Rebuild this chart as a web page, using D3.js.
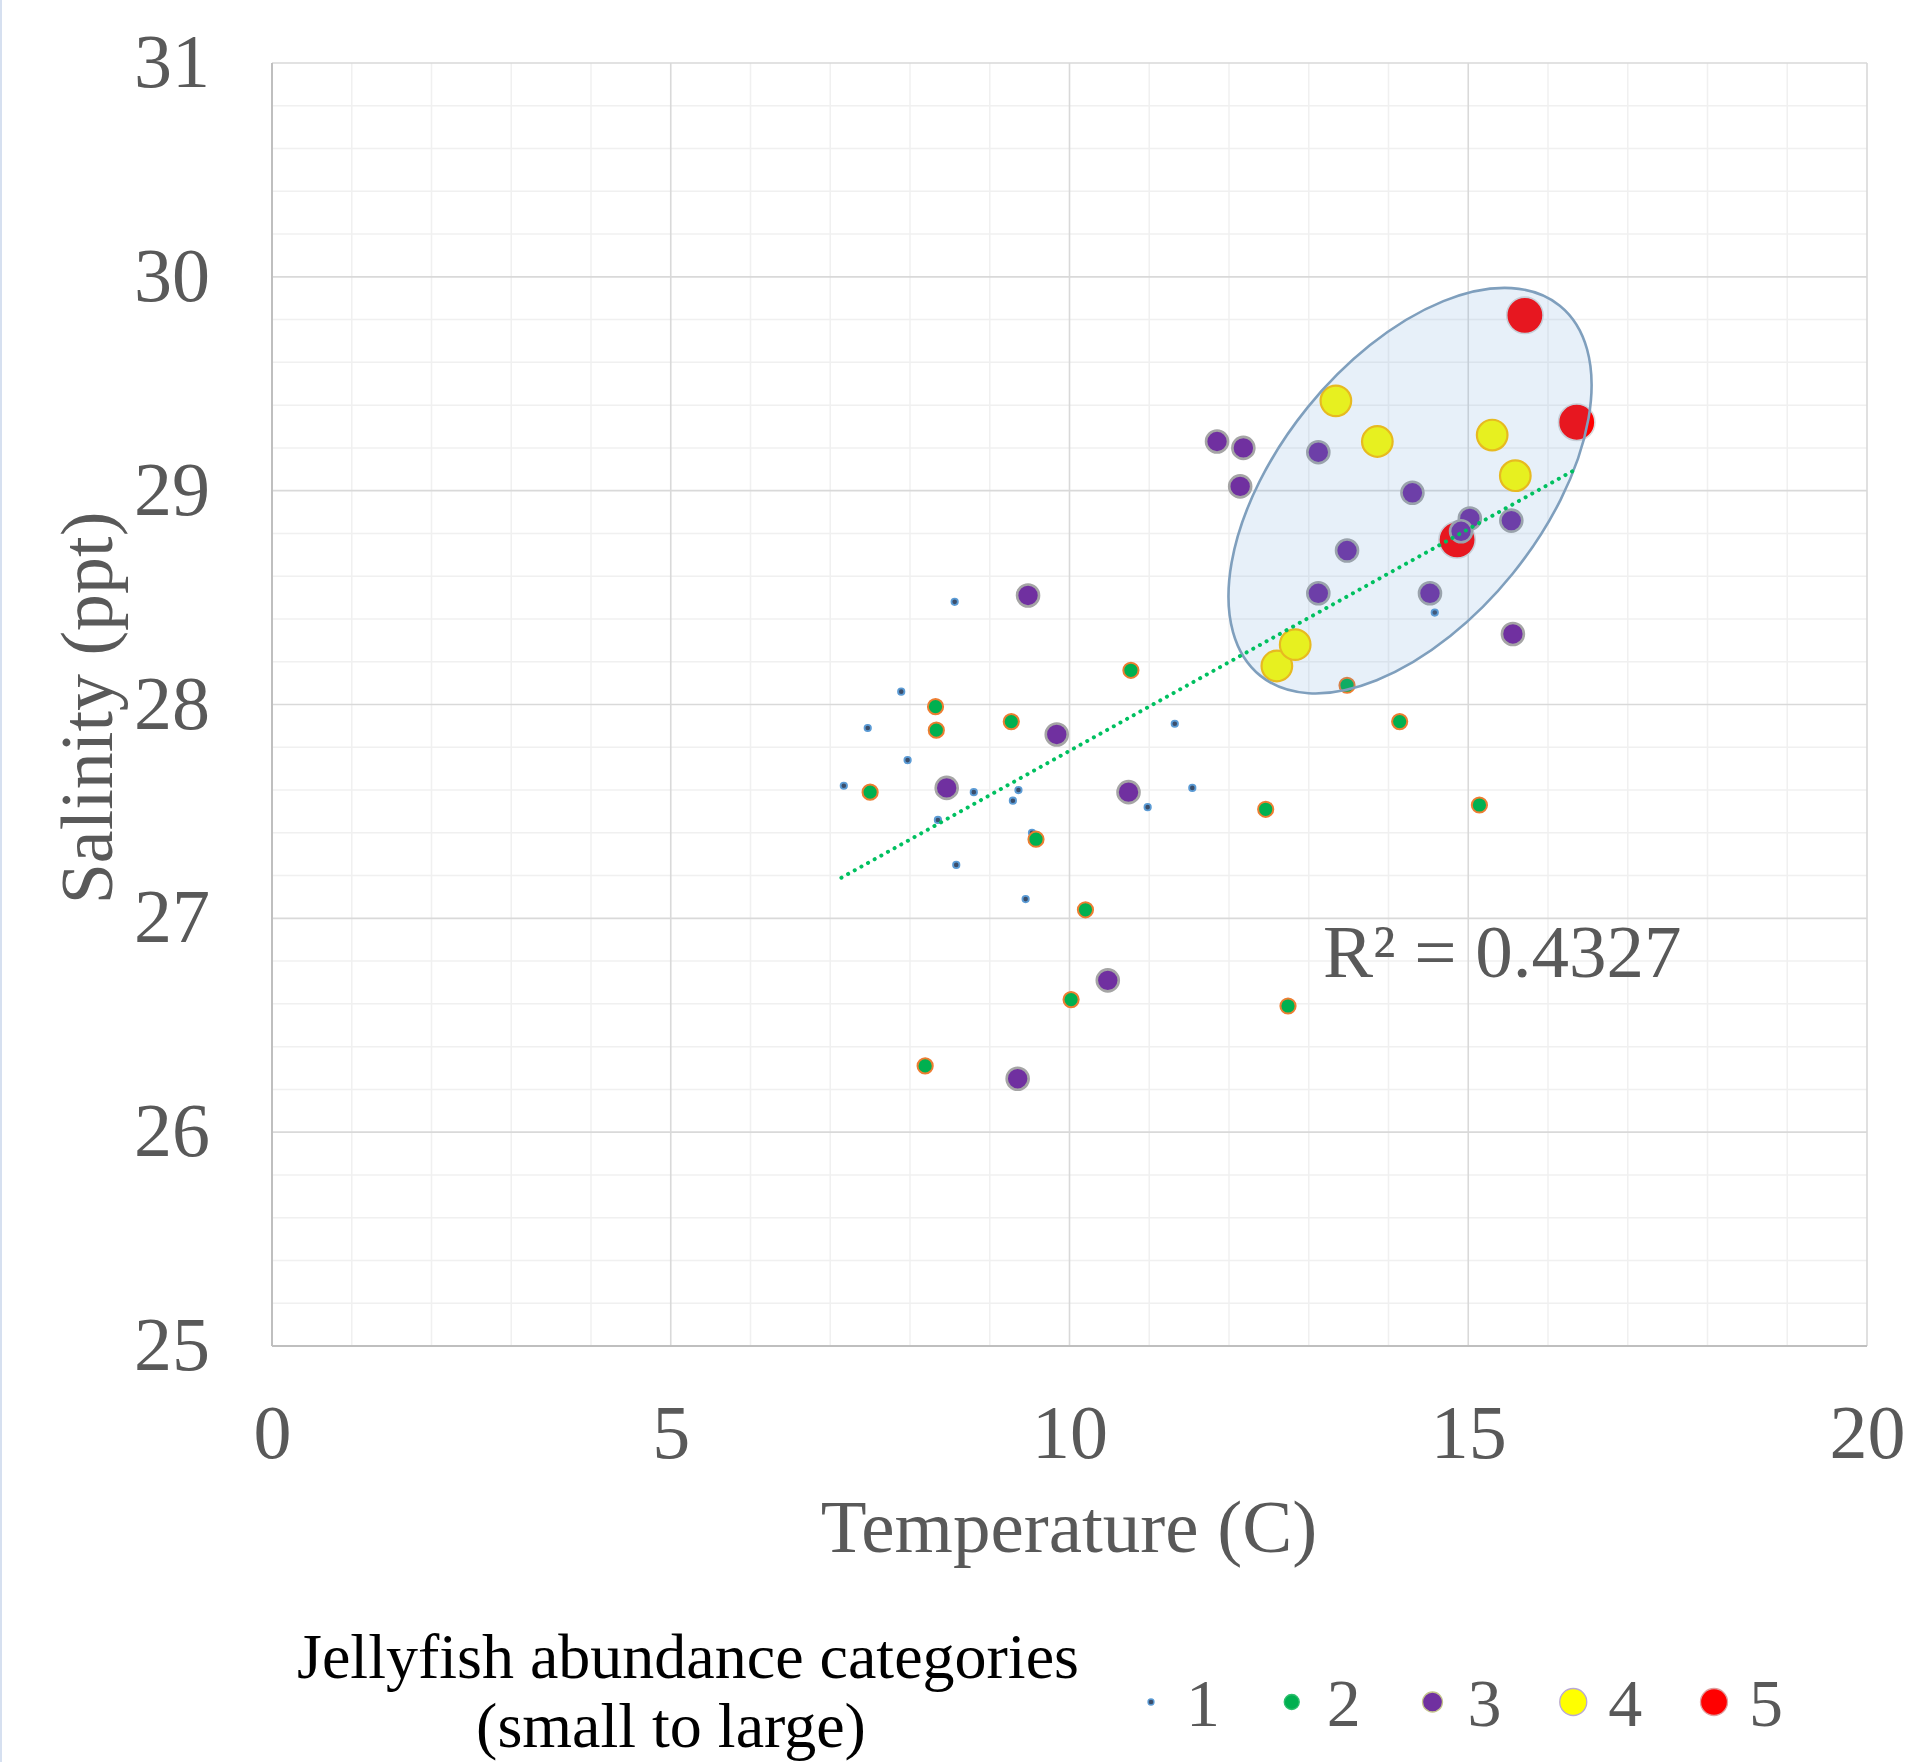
<!DOCTYPE html>
<html>
<head>
<meta charset="utf-8">
<script src="https://cdn.jsdelivr.net/npm/d3@7"></script>
<style>
  html, body { margin: 0; padding: 0; background: #ffffff; }
  svg { display: block; }
  text { font-family: "Liberation Serif", "Times New Roman", serif; }
</style>
</head>
<body>
<svg id="chart" width="1909" height="1762"></svg>
<script>
// ---------------- DATA ----------------
const categories = ["1", "2", "3", "4", "5"];

const cat1Temp = [7.17, 7.47, 7.89, 7.97, 8.35, 8.56, 8.58, 8.80, 9.29, 9.36, 9.45, 9.53, 10.98, 11.32, 11.54, 14.58];
const cat1Sal  = [27.62, 27.89, 28.06, 27.74, 27.46, 28.48, 27.25, 27.59, 27.55, 27.60, 27.09, 27.40, 27.52, 27.91, 27.61, 28.43];

const cat2Temp = [7.50, 8.19, 8.32, 8.33, 9.27, 9.58, 10.02, 10.20, 10.77, 12.46, 12.74, 13.48, 14.14, 15.14];
const cat2Sal  = [27.59, 26.31, 27.99, 27.88, 27.92, 27.37, 26.62, 27.04, 28.16, 27.51, 26.59, 28.09, 27.92, 27.53];

const cat3Temp = [8.46, 9.35, 9.48, 9.84, 10.48, 10.74, 11.85, 12.18, 12.14, 13.12, 13.12, 13.48, 14.30, 14.52, 15.02, 14.91, 15.54, 15.56];
const cat3Sal  = [27.61, 26.25, 28.51, 27.86, 26.71, 27.59, 29.23, 29.20, 29.02, 29.18, 28.52, 28.72, 28.99, 28.52, 28.87, 28.81, 28.86, 28.33];

const cat4Temp = [12.60, 12.83, 13.34, 13.86, 15.30, 15.59];
const cat4Sal  = [28.18, 28.28, 29.42, 29.23, 29.26, 29.07];

const cat5Temp = [14.86, 15.71, 16.36];
const cat5Sal  = [28.77, 29.82, 29.32];

// linear trendline (end points)
const trendTemp = [7.14, 16.35];
const trendSal  = [27.19, 29.10];

const xTickLabels = [0, 5, 10, 15, 20];
const yTickLabels = [25, 26, 27, 28, 29, 30, 31];
const r2Label = "R\u00B2 = 0.4327";
const xTitle = "Temperature (C)";
const yTitle = "Salinity (ppt)";
const legendTitle = ["Jellyfish abundance categories", "(small to large)"];
// highlighted cluster (annotation ellipse), centre in data units
const clusterCenter = [14.27, 29.0];

// ---------------- STYLE ----------------
const styles = {
  "1": { fill: "#3b4e6b", stroke: "#5b9bd5", r: 3.2, sw: 1.8, lr: 3.0, ls: "#5b9bd5" },
  "2": { fill: "#00b050", stroke: "#ed7d31", r: 7.6, sw: 2.0, lr: 7.5, ls: "#2ebf6e" },
  "3": { fill: "#7030a0", stroke: "#a5a5a5", r: 11.0, sw: 2.6, lr: 10.0, ls: "#c4c48c" },
  "4": { fill: "#ffff00", stroke: "#ffc000", r: 15.3, sw: 2.2, lr: 13.5, ls: "#b9a8d4" },
  "5": { fill: "#ff0000", stroke: "#d9d9d9", r: 18.2, sw: 1.6, lr: 13.5, ls: "#e0a0a0" }
};

const series = {
  "1": cat1Temp.map((t, i) => ({ t, s: cat1Sal[i] })),
  "2": cat2Temp.map((t, i) => ({ t, s: cat2Sal[i] })),
  "3": cat3Temp.map((t, i) => ({ t, s: cat3Sal[i] })),
  "4": cat4Temp.map((t, i) => ({ t, s: cat4Sal[i] })),
  "5": cat5Temp.map((t, i) => ({ t, s: cat5Sal[i] }))
};

const svg = d3.select("#chart");
const pLeft = 272, pRight = 1867, pTop = 63, pBottom = 1346;

const x = d3.scaleLinear().domain([0, 20]).range([pLeft, pRight]);
const y = d3.scaleLinear().domain([25, 31]).range([pBottom, pTop]);

// left thin border of the page image
svg.append("rect").attr("x", 0).attr("y", 0).attr("width", 2).attr("height", 1762).attr("fill", "#d6e0f0");

// ---------------- GRID ----------------
const grid = svg.append("g");
const minorX = d3.range(0, 21, 1).filter(v => v % 5 !== 0);
const minorY = d3.range(0, 31).map(i => 25 + i * 0.2).filter(v => Math.abs(v - Math.round(v)) > 1e-6);

grid.selectAll(".mx").data(minorX).join("line")
  .attr("class", "mx")
  .attr("x1", d => x(d)).attr("x2", d => x(d)).attr("y1", pTop).attr("y2", pBottom)
  .attr("stroke", "#f0f0f0").attr("stroke-width", 1.5);
grid.selectAll(".my").data(minorY).join("line")
  .attr("class", "my")
  .attr("x1", pLeft).attr("x2", pRight).attr("y1", d => y(d)).attr("y2", d => y(d))
  .attr("stroke", "#f0f0f0").attr("stroke-width", 1.5);
grid.selectAll(".Mx").data(xTickLabels).join("line")
  .attr("class", "Mx")
  .attr("x1", d => x(d)).attr("x2", d => x(d)).attr("y1", pTop).attr("y2", pBottom)
  .attr("stroke", "#d9d9d9").attr("stroke-width", 1.6);
grid.selectAll(".My").data(yTickLabels).join("line")
  .attr("class", "My")
  .attr("x1", pLeft).attr("x2", pRight).attr("y1", d => y(d)).attr("y2", d => y(d))
  .attr("stroke", "#d9d9d9").attr("stroke-width", 1.6);

// axis lines
svg.append("line").attr("x1", pLeft).attr("x2", pLeft).attr("y1", pTop).attr("y2", pBottom)
  .attr("stroke", "#bfbfbf").attr("stroke-width", 2);
svg.append("line").attr("x1", pLeft).attr("x2", pRight).attr("y1", pBottom).attr("y2", pBottom)
  .attr("stroke", "#bfbfbf").attr("stroke-width", 2);

// ---------------- AXES (labels via d3 axes) ----------------
const xAxis = d3.axisBottom(x).tickValues(xTickLabels).tickSize(0).tickPadding(0).tickFormat(d3.format("d"));
const gx = svg.append("g").attr("transform", `translate(0,${pBottom})`).call(xAxis);
gx.select(".domain").remove();
gx.selectAll("text").attr("font-size", 76).attr("fill", "#595959")
  .attr("font-family", "Liberation Serif, serif").attr("dy", null).attr("y", 112);

const yAxis = d3.axisLeft(y).tickValues(yTickLabels).tickSize(0).tickPadding(0).tickFormat(d3.format("d"));
const gy = svg.append("g").attr("transform", `translate(210,0)`).call(yAxis);
gy.select(".domain").remove();
gy.selectAll("text").attr("font-size", 76).attr("fill", "#595959")
  .attr("font-family", "Liberation Serif, serif").attr("x", 0).attr("dy", "0.31em");

// axis titles
svg.append("text").attr("x", 1069).attr("y", 1552).attr("text-anchor", "middle")
  .attr("font-size", 75).attr("fill", "#595959").text(xTitle);
svg.append("text").attr("transform", "translate(112,708) rotate(-90)").attr("text-anchor", "middle")
  .attr("font-size", 74).attr("fill", "#595959").text(yTitle);

// ---------------- POINTS ----------------
const drawOrder = ["1", "2", "4", "5", "3"];
const pts = svg.append("g");
drawOrder.forEach(c => {
  const st = styles[c];
  pts.append("g").selectAll("circle").data(series[c]).join("circle")
    .attr("cx", d => x(d.t)).attr("cy", d => y(d.s)).attr("r", st.r)
    .attr("fill", st.fill).attr("stroke", st.stroke).attr("stroke-width", st.sw);
});

// cluster ellipse drawn semi-transparent on top of points
const cx0 = x(clusterCenter[0]), cy0 = y(clusterCenter[1]);
svg.append("ellipse")
  .attr("transform", `translate(${cx0},${cy0}) rotate(-51)`)
  .attr("rx", 238).attr("ry", 132)
  .attr("fill", "#5b9bd5").attr("fill-opacity", 0.15)
  .attr("stroke", "#7f9fbd").attr("stroke-width", 2.6);

// ---------------- TRENDLINE ----------------
const trend = trendTemp.map((t, i) => [t, trendSal[i]]);
svg.append("path").datum(trend)
  .attr("d", d3.line().x(d => x(d[0])).y(d => y(d[1])))
  .attr("fill", "none")
  .attr("stroke", "#00c060").attr("stroke-width", 4)
  .attr("stroke-linecap", "round").attr("stroke-dasharray", "0.1 7.5");

svg.append("text").attr("x", 1323).attr("y", 977).attr("font-size", 75)
  .attr("fill", "#595959").text(r2Label);

// ---------------- LEGEND ----------------
svg.append("text").attr("x", 688).attr("y", 1678).attr("text-anchor", "middle")
  .attr("font-size", 64).attr("fill", "#000000").text(legendTitle[0]);
svg.append("text").attr("x", 671).attr("y", 1747).attr("text-anchor", "middle")
  .attr("font-size", 64).attr("fill", "#000000").text(legendTitle[1]);

const lx = d3.scalePoint().domain(categories).range([1151, 1714]);
const lg = svg.append("g");
categories.forEach(c => {
  const st = styles[c];
  lg.append("circle").attr("cx", lx(c)).attr("cy", 1702).attr("r", st.lr)
    .attr("fill", st.fill).attr("stroke", st.ls).attr("stroke-width", 1.3);
  lg.append("text").attr("x", lx(c) + 35).attr("y", 1726).attr("font-size", 68)
    .attr("fill", "#595959").text(c);
});
</script>
</body>
</html>
